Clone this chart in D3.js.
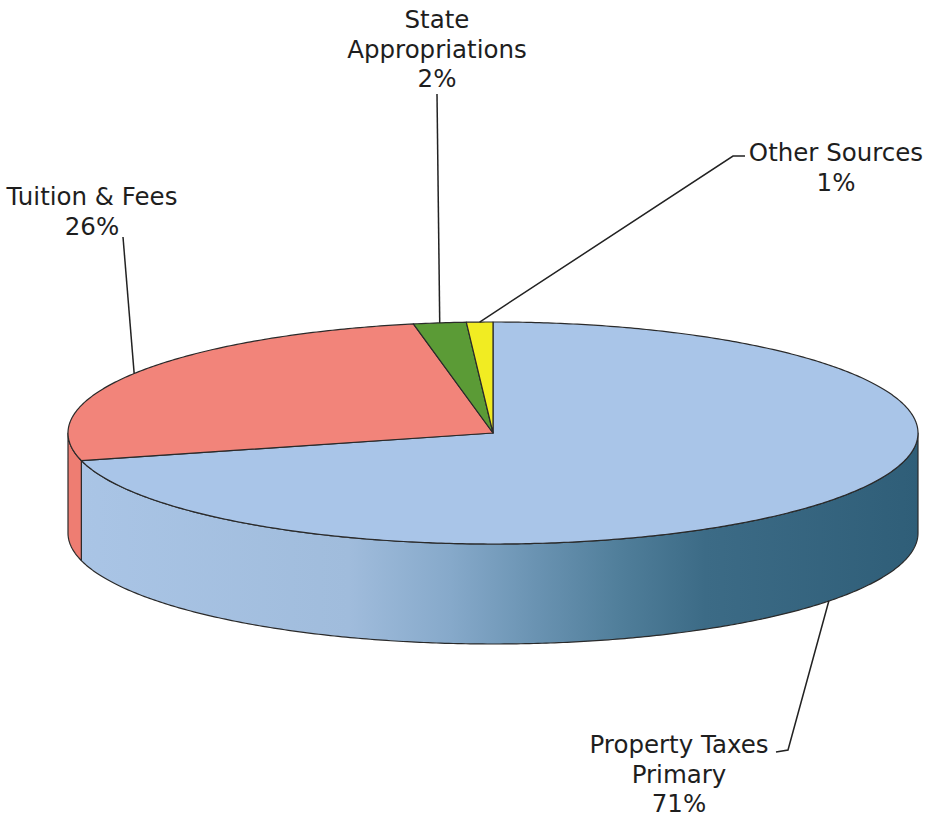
<!DOCTYPE html>
<html>
<head>
<meta charset="utf-8">
<script src="https://cdn.jsdelivr.net/npm/d3@7"></script>
<style>
  body { margin: 0; background: #fff; }
  svg { display: block; }
</style>
</head>
<body>
<div id="chart"></div>
<script>
// data
const categories = ["Property Taxes Primary", "Tuition & Fees", "State Appropriations", "Other Sources"];
const values = [71, 26, 2, 1];
const labelLines = [
  ["Property Taxes", "Primary", "71%"],
  ["Tuition & Fees", "26%"],
  ["State", "Appropriations", "2%"],
  ["Other Sources", "1%"]
];
const topColors = ["#a9c5e8", "#f2847a", "#5b9b36", "#f1ec22"];
const sideColors = ["url(#side-grad)", "#ee7d72", "#4e8a2e", "#d8d21c"];

// size and geometry
const W = 927, H = 819;
const cx = 493, cy = 433, rx = 425, ry = 111, depth = 100;

// label layout: text pos, elbow points, attach to bottom of wall?
const labelPos = [
  { x: 679, y: 753, elbow: [[776, 752], [788, 750]], bottom: true },
  { x: 92, y: 205, elbow: [[123, 237]], bottom: false },
  { x: 437, y: 28, elbow: [[437, 94]], bottom: false },
  { x: 836, y: 161, elbow: [[745, 156], [733, 156]], bottom: false }
];

const svg = d3.select("#chart").append("svg")
  .attr("width", W)
  .attr("height", H);

// 側面漸層
const defs = svg.append("defs");
const grad = defs.append("linearGradient")
  .attr("id", "side-grad")
  .attr("gradientUnits", "userSpaceOnUse")
  .attr("x1", cx - rx).attr("y1", 0)
  .attr("x2", cx + rx).attr("y2", 0);
[["0%", "#aac5e6"], ["33%", "#a0bcdc"], ["45%", "#86a9ca"], ["55%", "#6a93b2"],
 ["65%", "#507e9a"], ["75%", "#3c6b86"], ["100%", "#2f5e78"]]
  .forEach(([o, c]) => grad.append("stop").attr("offset", o).attr("stop-color", c));

const pie = d3.pie().sort(null).value(d => d);
const arcs = pie(values);

// projected point on ellipse for d3 angle
const px = a => cx + rx * Math.sin(a);
const py = a => cy - ry * Math.cos(a);

function arcPoints(a0, a1, dy) {
  const n = Math.max(2, Math.ceil((a1 - a0) / 0.01));
  return d3.range(n + 1).map(i => {
    const a = a0 + (a1 - a0) * i / n;
    return [px(a), py(a) + dy];
  });
}

const line = d3.line();

// outer walls (front half only)
arcs.forEach((d, i) => {
  const a0 = Math.max(d.startAngle, Math.PI / 2);
  const a1 = Math.min(d.endAngle, Math.PI * 3 / 2);
  if (a1 <= a0) return;
  const pts = arcPoints(a0, a1, 0).concat(arcPoints(a0, a1, depth).reverse());
  svg.append("path")
    .attr("d", line(pts) + "Z")
    .attr("fill", sideColors[i])
    .attr("stroke", "#2a2a2a")
    .attr("stroke-width", 1.2)
    .attr("stroke-linejoin", "round");
});

// top faces
arcs.forEach((d, i) => {
  const pts = [[cx, cy]].concat(arcPoints(d.startAngle, d.endAngle, 0));
  svg.append("path")
    .attr("d", line(pts) + "Z")
    .attr("fill", topColors[i])
    .attr("stroke", "#2a2a2a")
    .attr("stroke-width", 1.2)
    .attr("stroke-linejoin", "round");
});

// leader lines and labels
arcs.forEach((d, i) => {
  const mid = (d.startAngle + d.endAngle) / 2;
  const lp = labelPos[i];
  const start = [px(mid), py(mid) + (lp.bottom ? depth : 0)];
  const pts = [start].concat(lp.elbow.slice().reverse());
  svg.append("path")
    .attr("d", line(pts))
    .attr("fill", "none")
    .attr("stroke", "#222")
    .attr("stroke-width", 1.5);

  const t = svg.append("text")
    .attr("x", lp.x)
    .attr("y", lp.y)
    .attr("text-anchor", "middle")
    .style("font-family", "'DejaVu Sans', Verdana, sans-serif")
    .style("font-size", "24.5px")
    .style("fill", "#1e1e1e");
  labelLines[i].forEach((s, j) => {
    t.append("tspan")
      .attr("x", lp.x)
      .attr("dy", j === 0 ? 0 : 29.5)
      .text(s);
  });
});
</script>
</body>
</html>
